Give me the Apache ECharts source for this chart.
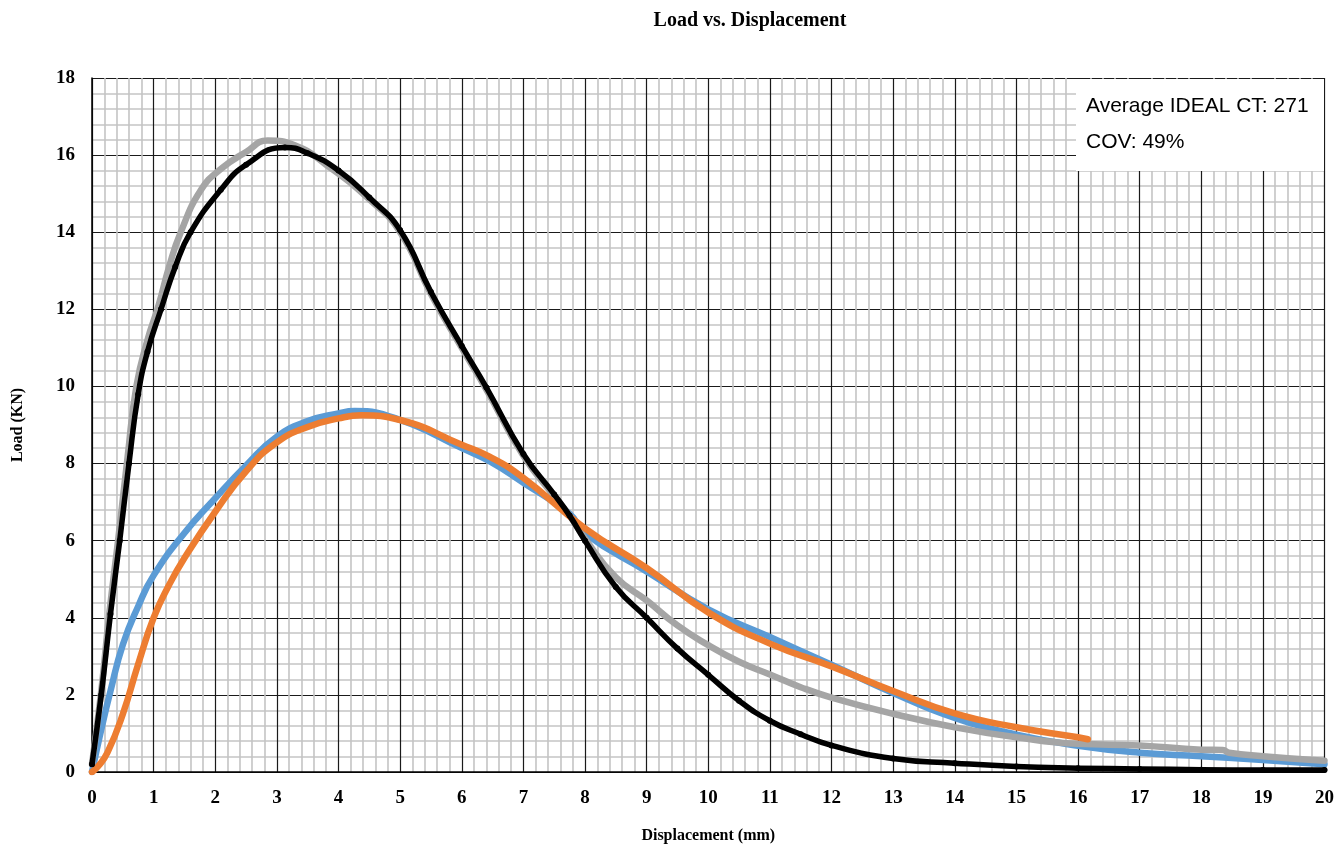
<!DOCTYPE html>
<html>
<head>
<meta charset="utf-8">
<title>Load vs. Displacement</title>
<script src="https://cdn.jsdelivr.net/npm/echarts@6/dist/echarts.min.js"></script>
<style>
  html, body { margin: 0; padding: 0; background: #ffffff; }
  #chart { width: 1337px; height: 849px; }
</style>
</head>
<body>
<div id="chart"></div>
<script>
// Load (kN) against displacement (mm) for four IDEAL-CT specimens
const blackX = [0, 0.15, 0.3, 0.45, 0.6, 0.75, 0.9, 1.12, 1.35, 1.6, 2.09, 2.5, 3.13, 3.5, 4.0, 4.5, 5.0, 5.5, 6.0, 6.4, 7.0, 7.5, 7.75, 8.0, 8.5, 9.0, 9.5, 10.0, 10.5, 11.0, 11.5, 12.0, 13.0, 14.0, 15.0, 16.0, 17.0, 18.0, 19.0, 20.0];
const blackY = [0.2, 2.0, 4.1, 6.0, 8.0, 9.8, 10.9, 12.0, 13.1, 14.0, 15.1, 15.75, 16.2, 16.05, 15.6, 14.9, 14.05, 12.45, 11.05, 9.97, 8.25, 7.2, 6.65, 6.0, 4.8, 4.0, 3.2, 2.52, 1.85, 1.33, 0.98, 0.69, 0.35, 0.23, 0.14, 0.1, 0.08, 0.06, 0.05, 0.05];

const greyX = [0, 0.15, 0.28, 0.43, 0.58, 0.72, 0.9, 1.08, 1.25, 1.44, 1.77, 2.1, 2.5, 2.85, 3.3, 3.8, 4.5, 5.0, 5.5, 6.0, 6.4, 7.0, 7.5, 7.75, 8.0, 8.5, 9.0, 9.5, 10.0, 10.5, 11.0, 11.5, 12.0, 13.0, 14.0, 15.0, 16.0, 17.0, 18.0, 18.35, 18.45, 19.0, 20.0];
const greyY = [0.2, 2.1, 4.1, 6.1, 8.2, 10.0, 11.2, 12.1, 13.1, 14.0, 15.1, 15.65, 16.08, 16.38, 16.25, 15.75, 14.85, 14.0, 12.4, 11.0, 9.92, 8.2, 7.15, 6.65, 6.05, 5.05, 4.45, 3.8, 3.29, 2.86, 2.53, 2.2, 1.93, 1.51, 1.16, 0.9, 0.73, 0.69, 0.58, 0.57, 0.5, 0.41, 0.29];

const blueX = [0, 0.15, 0.3, 0.5, 0.75, 1.0, 1.5, 2.0, 2.5, 3.0, 3.5, 4.0, 4.26, 5.0, 6.0, 6.45, 7.0, 7.75, 8.0, 9.0, 10.0, 11.0, 12.0, 13.0, 14.0, 15.0, 16.0, 17.0, 18.0, 19.0, 20.0];
const blueY = [0, 1.1, 2.1, 3.3, 4.3, 5.1, 6.2, 7.1, 7.95, 8.7, 9.1, 9.3, 9.36, 9.13, 8.4, 8.06, 7.5, 6.7, 6.19, 5.2, 4.22, 3.5, 2.78, 2.05, 1.4, 0.97, 0.68, 0.5, 0.41, 0.31, 0.2];

const orangeX = [0, 0.1, 0.25, 0.5, 0.75, 1.0, 1.25, 1.5, 2.0, 2.5, 3.0, 3.5, 4.0, 4.37, 5.0, 6.0, 6.45, 7.0, 8.0, 9.0, 10.0, 11.0, 12.0, 13.0, 14.0, 15.0, 16.0, 16.16];
const orangeY = [0, 0.15, 0.5, 1.5, 2.8, 4.0, 4.85, 5.55, 6.75, 7.8, 8.55, 8.95, 9.17, 9.25, 9.13, 8.49, 8.18, 7.63, 6.32, 5.29, 4.14, 3.33, 2.74, 2.1, 1.52, 1.16, 0.9, 0.85];

const xTicks = { min: 0, max: 20, step: 1 };
const yTicks = { min: 0, max: 18, step: 2 };
const noteLines = ['Average IDEAL CT: 271', 'COV: 49%'];

function pairs(xs, ys) {
  return xs.map((x, i) => [x, ys[i]]);
}

const chart = echarts.init(document.getElementById('chart'), null, { renderer: 'canvas' });

const axisFont = { fontFamily: 'Liberation Serif', fontWeight: 'bold', fontSize: 19, color: '#000' };
const nameFont = { fontFamily: 'Liberation Serif', fontWeight: 'bold', fontSize: 16, color: '#000' };

function lineSeries(name, xs, ys, color, width, z, markers) {
  return {
    name: name,
    type: 'line',
    data: pairs(xs, ys),
    smooth: 0.5,
    z: z,
    showSymbol: !!markers,
    symbol: 'circle',
    symbolSize: markers ? 6 : 0,
    itemStyle: { color: color },
    lineStyle: { color: color, width: width, cap: 'round', join: 'round' },
    emphasis: { disabled: true },
    animation: false
  };
}

chart.setOption({
  animation: false,
  backgroundColor: '#ffffff',
  title: {
    text: 'Load vs. Displacement',
    left: 745,
    top: 6,
    textAlign: 'center',
    textStyle: { fontFamily: 'Liberation Serif', fontWeight: 'bold', fontSize: 20, color: '#000' }
  },
  grid: { left: 92, right: 12, top: 78, bottom: 67, containLabel: false },
  xAxis: {
    type: 'value',
    min: xTicks.min, max: xTicks.max, interval: xTicks.step,
    name: 'Displacement (mm)',
    nameLocation: 'middle',
    nameGap: 56,
    nameTextStyle: nameFont,
    axisLine: { show: true, onZero: false, lineStyle: { color: '#000', width: 1.5 } },
    axisTick: { show: false },
    axisLabel: Object.assign({ margin: 17 }, axisFont),
    minorTick: { show: false, splitNumber: 5 },
    splitLine: { show: true, lineStyle: { color: '#1a1a1a', width: 1.2 } },
    minorSplitLine: { show: true, lineStyle: { color: '#c4c4c4', width: 1.6 } }
  },
  yAxis: {
    type: 'value',
    min: yTicks.min, max: yTicks.max, interval: yTicks.step,
    name: 'Load (KN)',
    nameLocation: 'middle',
    nameGap: 66,
    nameRotate: 90,
    nameTextStyle: nameFont,
    axisLine: { show: true, onZero: false, lineStyle: { color: '#000', width: 1.5 } },
    axisTick: { show: false },
    axisLabel: Object.assign({ margin: 17 }, axisFont),
    minorTick: { show: false, splitNumber: 5 },
    splitLine: { show: true, lineStyle: { color: '#1a1a1a', width: 1.2 } },
    minorSplitLine: { show: true, lineStyle: { color: '#c4c4c4', width: 1.6 } }
  },
  series: [
    lineSeries('Specimen 4', blueX, blueY, '#5b9bd5', 6.5, 2, false),
    lineSeries('Specimen 2', greyX, greyY, '#a5a5a5', 6.5, 3, false),
    lineSeries('Specimen 3', orangeX, orangeY, '#ed7d31', 6.5, 4, false),
    lineSeries('Specimen 1', blackX, blackY, '#000000', 5.5, 5, true)
  ],
  graphic: [
    {
      type: 'rect',
      z: 100,
      zlevel: 0,
      shape: { x: 1076, y: 79, width: 248, height: 92 },
      style: { fill: '#ffffff', stroke: null }
    },
    {
      type: 'text',
      z: 101,
      x: 1086, y: 106,
      style: { text: noteLines[0], font: '21px "Liberation Sans"', fill: '#000', verticalAlign: 'middle' }
    },
    {
      type: 'text',
      z: 101,
      x: 1086, y: 142,
      style: { text: noteLines[1], font: '21px "Liberation Sans"', fill: '#000', verticalAlign: 'middle' }
    }
  ]
});
</script>
</body>
</html>
